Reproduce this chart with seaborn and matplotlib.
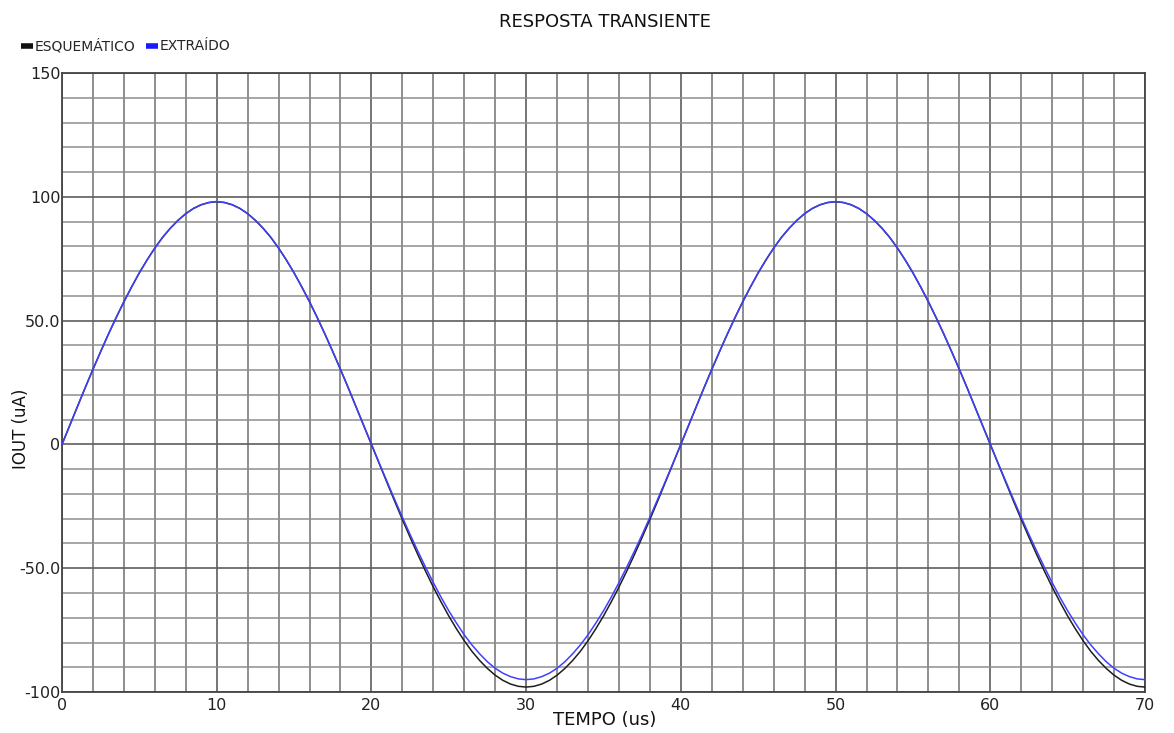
import numpy as np
import pandas as pd
import matplotlib
matplotlib.use("Agg")
import matplotlib.pyplot as plt
from matplotlib.lines import Line2D
import seaborn as sns

tempo = [i * 0.5 for i in range(141)]
esquematico = [
    0.0,
    7.7, 15.3, 22.9, 30.3, 37.5, 44.5, 51.2, 57.6, 63.6, 69.3,
    74.5, 79.3, 83.6, 87.3, 90.5, 93.2, 95.3, 96.8, 97.7, 98.0,
    97.7, 96.8, 95.3, 93.2, 90.5, 87.3, 83.6, 79.3, 74.5, 69.3,
    63.6, 57.6, 51.2, 44.5, 37.5, 30.3, 22.9, 15.3, 7.7, 0.0,
    -7.7, -15.3, -22.9, -30.3, -37.5, -44.5, -51.2, -57.6, -63.6, -69.3,
    -74.5, -79.3, -83.6, -87.3, -90.5, -93.2, -95.3, -96.8, -97.7, -98.0,
    -97.7, -96.8, -95.3, -93.2, -90.5, -87.3, -83.6, -79.3, -74.5, -69.3,
    -63.6, -57.6, -51.2, -44.5, -37.5, -30.3, -22.9, -15.3, -7.7, 0.0,
    7.7, 15.3, 22.9, 30.3, 37.5, 44.5, 51.2, 57.6, 63.6, 69.3,
    74.5, 79.3, 83.6, 87.3, 90.5, 93.2, 95.3, 96.8, 97.7, 98.0,
    97.7, 96.8, 95.3, 93.2, 90.5, 87.3, 83.6, 79.3, 74.5, 69.3,
    63.6, 57.6, 51.2, 44.5, 37.5, 30.3, 22.9, 15.3, 7.7, 0.0,
    -7.7, -15.3, -22.9, -30.3, -37.5, -44.5, -51.2, -57.6, -63.6, -69.3,
    -74.5, -79.3, -83.6, -87.3, -90.5, -93.2, -95.3, -96.8, -97.7, -98.0,
]
extraido = [
    0.0,
    7.7, 15.3, 22.9, 30.3, 37.5, 44.5, 51.2, 57.6, 63.6, 69.3,
    74.5, 79.3, 83.6, 87.3, 90.5, 93.2, 95.3, 96.8, 97.7, 98.1,
    97.7, 96.8, 95.3, 93.2, 90.5, 87.3, 83.6, 79.3, 74.5, 69.3,
    63.6, 57.6, 51.2, 44.5, 37.5, 30.3, 22.9, 15.3, 7.7, 0.1,
    -7.5, -14.9, -22.2, -29.4, -36.4, -43.1, -49.6, -55.8, -61.7, -67.2,
    -72.2, -76.9, -81.0, -84.6, -87.8, -90.4, -92.4, -93.8, -94.7, -95.0,
    -94.7, -93.8, -92.4, -90.4, -87.8, -84.6, -81.0, -76.9, -72.2, -67.2,
    -61.7, -55.8, -49.6, -43.1, -36.4, -29.4, -22.2, -14.9, -7.5, 0.1,
    7.7, 15.3, 22.9, 30.3, 37.5, 44.5, 51.2, 57.6, 63.6, 69.3,
    74.5, 79.3, 83.6, 87.3, 90.5, 93.2, 95.3, 96.8, 97.7, 98.1,
    97.7, 96.8, 95.3, 93.2, 90.5, 87.3, 83.6, 79.3, 74.5, 69.3,
    63.6, 57.6, 51.2, 44.5, 37.5, 30.3, 22.9, 15.3, 7.7, 0.1,
    -7.5, -14.9, -22.2, -29.4, -36.4, -43.1, -49.6, -55.8, -61.7, -67.2,
    -72.2, -76.9, -81.0, -84.6, -87.8, -90.4, -92.4, -93.8, -94.7, -95.0,
]
series_names = ["ESQUEMÁTICO", "EXTRAÍDO"]
series_colors = ["#1e1e1e", "#4040ff"]
x_ticks = [0, 10, 20, 30, 40, 50, 60, 70]
y_ticks = [-100, -50, 0, 50, 100, 150]
y_tick_labels = ["-100", "-50.0", "0", "50.0", "100", "150"]

df = pd.DataFrame({
    "TEMPO": tempo * 2,
    "IOUT": esquematico + extraido,
    "serie": [series_names[0]] * len(tempo) + [series_names[1]] * len(tempo),
})

sns.set_theme(style="white")
plt.rcParams["font.family"] = ["DejaVu Sans"]

fig = plt.figure(figsize=(11.74, 7.33), dpi=100)
ax = fig.add_axes([0.0528, 0.0559, 0.9225, 0.8445])

sns.lineplot(data=df, x="TEMPO", y="IOUT", hue="serie",
             palette=dict(zip(series_names, series_colors)),
             linewidth=1.1, legend=False, ax=ax, zorder=3)

ax.set_xlim(0, 70)
ax.set_ylim(-100, 150)
ax.set_xticks(x_ticks)
ax.set_xticks(np.arange(0, 71, 2), minor=True)
ax.set_yticks(y_ticks)
ax.set_yticklabels(y_tick_labels)
ax.set_yticks(np.arange(-100, 151, 10), minor=True)

ax.grid(which="major", axis="both", color="#5e5e5e", linewidth=1.2)
ax.grid(which="minor", axis="x", color="#707070", linewidth=1.1)
ax.grid(which="minor", axis="y", color="#8e8e8e", linewidth=1.1)
ax.set_axisbelow(True)

for sp in ax.spines.values():
    sp.set_color("#444444")
    sp.set_linewidth(1.3)

ax.tick_params(axis="both", which="both", length=0, labelsize=11.5,
               colors="#222222")
ax.tick_params(axis="x", pad=4)
ax.tick_params(axis="y", pad=1)

ax.set_xlabel("TEMPO (us)", fontsize=13, color="#111111")
ax.xaxis.set_label_coords(0.501, -0.045)
ax.xaxis.label.set_va("center")
ax.set_ylabel("IOUT (uA)", fontsize=12, color="#111111")
ax.yaxis.set_label_coords(-0.038, 0.425)
ax.yaxis.label.set_va("center")

fig.text(0.515, 0.970, "RESPOSTA TRANSIENTE", ha="center", va="center",
         fontsize=13, color="#111111")

handles = [Line2D([0], [0], color=c, lw=4, solid_capstyle="butt")
           for c in ["#111111", "#1a1aff"]]
fig.legend(handles, series_names, loc="center left",
           bbox_to_anchor=(0.018, 0.937), ncol=2, frameon=False,
           fontsize=10, handlelength=0.85, handletextpad=0.1,
           columnspacing=0.8, borderaxespad=0, borderpad=0)

fig.savefig("out.png", dpi=100, facecolor="white")
